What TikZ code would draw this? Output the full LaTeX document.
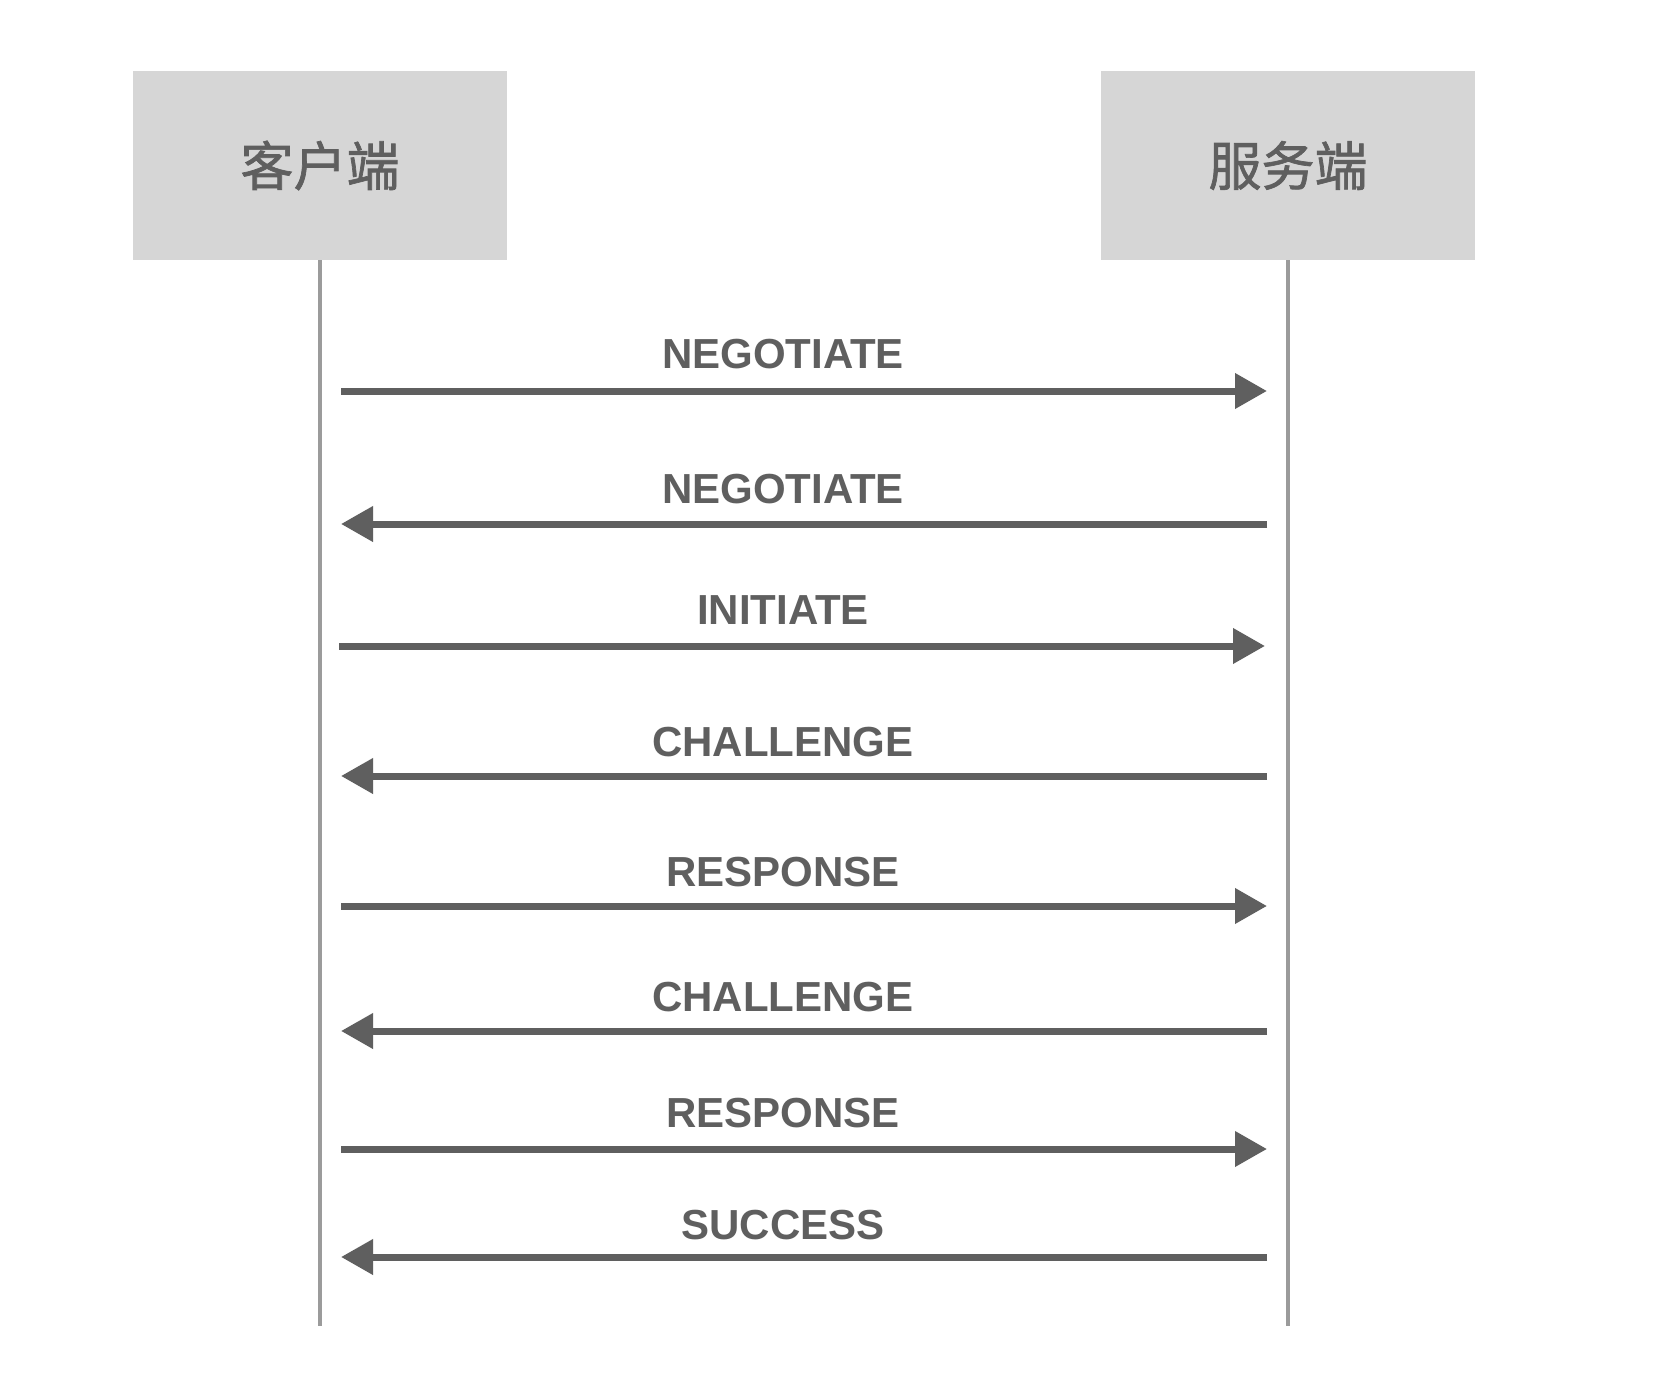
\documentclass[tikz,border=0pt]{standalone}
\usepackage{fontspec}
\newfontfamily\cjk[FakeBold=1.3]{Noto Sans CJK SC}
\newfontfamily\latin{Liberation Sans}
\usetikzlibrary{arrows.meta}
\definecolor{cinzaCaixa}{RGB}{214,214,214}
\definecolor{cinzaTexto}{RGB}{95,95,95}
\definecolor{cinzaLinha}{RGB}{155,155,155}

\begin{document}
\begin{tikzpicture}[x=1pt, y=-1pt,
    actor/.style={fill=cinzaCaixa, minimum width=374pt, minimum height=189pt, inner sep=0pt,
                  text=cinzaTexto, font=\cjk\fontsize{53}{60}\selectfont},
    lifeline/.style={draw=cinzaLinha, line width=4.5pt},
    msg/.style={draw=cinzaTexto, line width=7pt, -{Triangle[length=32pt, width=34pt]}},
    msglabel/.style={text=cinzaTexto, inner sep=0pt, font=\latin\bfseries\fontsize{42}{48}\selectfont}]

    \useasboundingbox[fill=white] (0,0) rectangle (1666,1394);

    % Participantes
    \node[actor] (client) at (320,165.5) {客户端};
    \node[actor] (server) at (1288,165.5) {服务端};

    % Linhas de vida
    \coordinate (clientend) at (320,1326);
    \coordinate (serverend) at (1288,1326);
    \draw[lifeline] (client.south) -- (clientend);
    \draw[lifeline] (server.south) -- (serverend);

    % Mensagens
    \foreach \i/\x/\y/\ly/\txt/\dir in {1/341/391/354/NEGOTIATE/r, 2/341/524/489/NEGOTIATE/l,
        3/339/646/610/INITIATE/r, 4/341/776/742/CHALLENGE/l, 5/341/906/872/RESPONSE/r,
        6/341/1031/997/CHALLENGE/l, 7/341/1149/1113/RESPONSE/r, 8/341/1257/1225/SUCCESS/l} {
        \coordinate (m\i l) at (\x,\y);
        \coordinate (m\i r) at (\x+926,\y);
        \if\dir r
            \draw[msg] (m\i l) -- (m\i r);
        \else
            \draw[msg] (m\i r) -- (m\i l);
        \fi
        \node[msglabel] (lbl\i) at (783,\ly) {\txt};
    }

\end{tikzpicture}
\end{document}
